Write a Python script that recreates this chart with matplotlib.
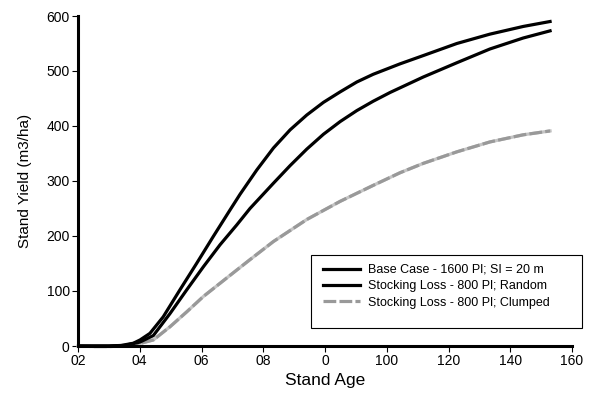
import matplotlib
matplotlib.use("Agg")
import matplotlib.pyplot as plt
from matplotlib.patches import Rectangle

plt.rcParams['font.family'] = ['Liberation Sans', 'DejaVu Sans']

# ---- data ----
base_age = [0, 5, 10, 14, 17.9, 20.1, 23.3, 27.6, 33.0, 38.4, 43.8, 49.2, 52.5, 57.9,
            63.3, 68.7, 74.1, 79.5, 84.9, 90.3, 95.6, 104.3, 111.8, 122.7, 133.4,
            144.2, 152.9]
base_val = [0, 0, 0, 1, 5, 11, 23, 53, 102, 150, 199, 247, 276, 320,
            360, 393, 420, 443, 462, 480, 494, 513, 528, 550, 567,
            581, 590]

rand_age = [0, 5, 10, 15, 20, 24.4, 29.8, 35.2, 40.6, 46.0, 51.4, 55.7, 63.3, 68.7,
            74.1, 79.5, 84.9, 90.3, 95.6, 101.1, 111.8, 122.7, 133.4, 144.2, 152.9]
rand_val = [0, 0, 0, 1, 7, 19, 59, 102, 144, 184, 220, 250, 296, 328,
            358, 385, 408, 428, 445, 461, 489, 515, 540, 560, 573]

clump_age = [0, 5, 10, 15, 19, 24.4, 29.8, 35.2, 40.6, 46.0, 51.4, 55.7, 63.3,
             74.1, 84.9, 95.6, 104.3, 111.8, 122.7, 133.4, 144.2, 152.9]
clump_val = [0, -1, -1, 0, 3, 11, 35, 62, 90, 114, 138, 157, 190,
             230, 263, 292, 315, 332, 353, 371, 384, 391]

labels = ["Base Case - 1600 Pl; SI = 20 m",
          "Stocking Loss - 800 Pl; Random",
          "Stocking Loss - 800 Pl; Clumped"]

x_ticks = [0, 20, 40, 60, 80, 100, 120, 140, 160]
x_tick_labels = ["02", "04", "06", "08", "0", "100", "120", "140", "160"]
y_ticks = [0, 100, 200, 300, 400, 500, 600]

# ---- figure ----
W, H = 592, 398
fig = plt.figure(figsize=(W/100, H/100), dpi=100)
ax = fig.add_axes([78/W, 1-346/H, (572-78)/W, (346-16)/H])

ax.plot(base_age, base_val, color='black', lw=2.3, label=labels[0],
        solid_joinstyle='round', zorder=4)
ax.plot(rand_age, rand_val, color='black', lw=2.3, label=labels[1],
        solid_joinstyle='round', zorder=4)
ax.plot(clump_age, clump_val, color='#c4c4c4', lw=2.3, zorder=3, clip_on=False,
        solid_joinstyle='round')
ax.plot(clump_age, clump_val, color='#999999', lw=2.3, ls=(0, (4, 1)),
        label=labels[2], zorder=3, clip_on=False)

ax.set_xlim(0, 160)
ax.set_ylim(0, 600)
ax.set_xticks(x_ticks)
ax.set_xticklabels(x_tick_labels)
ax.set_yticks(y_ticks)

for s in ['top', 'right']:
    ax.spines[s].set_visible(False)
for s in ['left', 'bottom']:
    ax.spines[s].set_linewidth(2.2)
    ax.spines[s].set_zorder(5)

ax.tick_params(direction='out', length=4, width=0.8, labelsize=10, pad=2)

ax.set_xlabel("Stand Age", fontsize=12.5, labelpad=3)
ax.set_ylabel("Stand Yield (m3/ha)", fontsize=11, labelpad=10)

fs = 9
leg = ax.legend(loc='upper left', bbox_to_anchor=(323/W, 1-264/H),
                bbox_transform=fig.transFigure, fontsize=fs, frameon=False,
                handlelength=37/12.5, handletextpad=8/12.5, labelspacing=0.35,
                borderpad=0, borderaxespad=0)
fig.patches.append(Rectangle((311/W, 1-328/H), (582-311)/W, (328-255)/H,
                             transform=fig.transFigure, fill=False,
                             edgecolor='black', lw=0.8, zorder=6))

fig.savefig("out.png", dpi=100)
